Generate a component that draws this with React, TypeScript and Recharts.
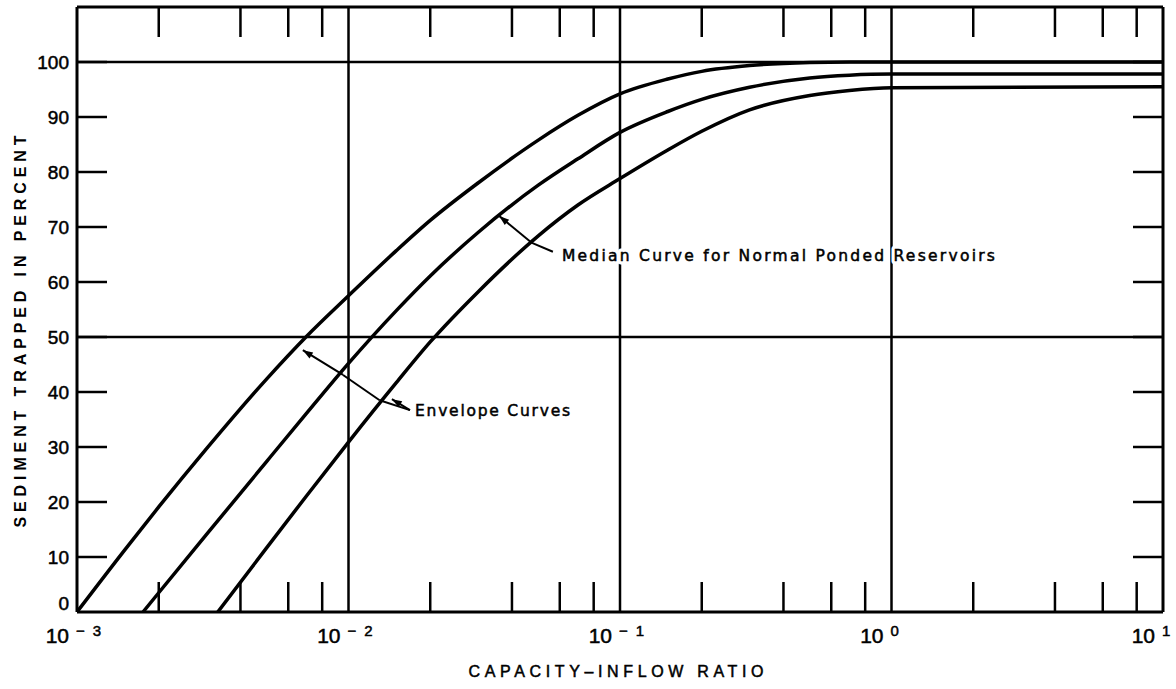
import React from 'react';
import { LineChart, Line, XAxis, YAxis, ReferenceLine, ReferenceDot } from 'recharts';

// curves: capacity-inflow ratio vs percent trapped
const UPPER_X = [0.001, 0.0015, 0.002, 0.003, 0.005, 0.007, 0.01, 0.015, 0.02, 0.03, 0.05, 0.07, 0.1, 0.15, 0.2, 0.3, 0.5, 0.7, 1, 10];
const UPPER_Y = [0, 11.3, 19.1, 29.7, 42.4, 50.1, 57.5, 65.7, 71.2, 78.0, 85.8, 90.3, 94.2, 96.9, 98.3, 99.35, 99.9, 100, 100, 100];

const MEDIAN_X = [0.00175, 0.002, 0.003, 0.005, 0.007, 0.01, 0.015, 0.02, 0.03, 0.05, 0.07, 0.1, 0.15, 0.2, 0.3, 0.5, 0.7, 1, 10];
const MEDIAN_Y = [0, 3.5, 14.1, 27.4, 36.1, 45.2, 54.8, 61.1, 69.0, 77.6, 82.4, 87.2, 91.0, 93.2, 95.4, 97.1, 97.6, 97.8, 97.8];

const LOWER_X = [0.0033, 0.005, 0.007, 0.01, 0.015, 0.02, 0.03, 0.05, 0.07, 0.1, 0.15, 0.2, 0.3, 0.5, 0.7, 1, 10];
const LOWER_Y = [0, 11.7, 21.1, 30.9, 41.7, 49.1, 58.2, 68.4, 74.0, 78.8, 84.0, 87.4, 91.3, 93.9, 94.8, 95.3, 95.5];

const Y_TICKS = [0, 10, 20, 30, 40, 50, 60, 70, 80, 90, 100];
const DECADES = [0.001, 0.01, 0.1, 1, 10];
const EXPONENTS = ['\u22123', '\u22122', '\u22121', '0', '1'];
const MINOR_TICKS = [0.002, 0.004, 0.006, 0.008, 0.02, 0.04, 0.06, 0.08, 0.2, 0.4, 0.6, 0.8, 2, 4, 6, 8];
const X_TICKS = [...DECADES, ...MINOR_TICKS].sort((a, b) => a - b);
const GRID_Y = [50, 100];
const GRID_X = [0.01, 0.1, 1];

const zip = (xs: number[], ys: number[]) => xs.map((x, i) => ({ x, y: ys[i] }));
const upper = zip(UPPER_X, UPPER_Y);
const median = zip(MEDIAN_X, MEDIAN_Y);
const lower = zip(LOWER_X, LOWER_Y);

const W = 1176;
const H = 689;
const FONT = '"Liberation Sans", Arial, sans-serif';
const NOTE_FONT = '"DejaVu Sans", sans-serif';
const INK = '#000';
const TICK_LEN = 30;
const AXIS_LINE = { stroke: INK, strokeWidth: 3 };
// scanned print looks heavier than a plain regular face
const HEAVY = { stroke: INK, strokeWidth: 0.5 };

const decadeIndex = (v: number) => DECADES.findIndex((d) => Math.abs(d - v) / d < 1e-9);

function LeftTick(props: any) {
  const { x, y, payload } = props;
  const v = payload.value;
  return (
    <g>
      {v > 0 && <line x1={x} x2={x + TICK_LEN} y1={y} y2={y} stroke={INK} strokeWidth={2.5} />}
      <text x={x - 8} y={y + (v === 0 ? -9 : 0)} dy="0.36em" textAnchor="end" fontSize={19} fontFamily={FONT} fill={INK} {...HEAVY}>
        {v}
      </text>
    </g>
  );
}

function RightTick(props: any) {
  const { x, y, payload } = props;
  if (payload.value === 0) return <g />;
  return <line x1={x - TICK_LEN} x2={x} y1={y} y2={y} stroke={INK} strokeWidth={2.5} />;
}

function BottomTick(props: any) {
  const { x, y, payload } = props;
  const i = decadeIndex(payload.value);
  if (i < 0) {
    return <line x1={x} x2={x} y1={y} y2={y - TICK_LEN} stroke={INK} strokeWidth={2.5} />;
  }
  const exp = EXPONENTS[i];
  return (
    <g fontFamily={FONT} fill={INK} {...HEAVY}>
      <text x={x - 8} y={y + 31} textAnchor="end" fontSize={21}>10</text>
      <text x={x - 1} y={y + 24} fontSize={15} {...(exp.length > 1 ? { textLength: 25, lengthAdjust: 'spacing' } : {})}>
        {exp}
      </text>
    </g>
  );
}

function TopTick(props: any) {
  const { x, y } = props;
  return <line x1={x} x2={x} y1={y} y2={y + TICK_LEN} stroke={INK} strokeWidth={2.5} />;
}

function arrowShape(withHead: boolean) {
  return (p: any) => {
    const { x1, y1, x2, y2 } = p;
    const dx = x2 - x1;
    const dy = y2 - y1;
    const len = Math.hypot(dx, dy) || 1;
    const ux = dx / len;
    const uy = dy / len;
    const bx = x2 - ux * 10;
    const by = y2 - uy * 10;
    return (
      <g>
        <line x1={x1} y1={y1} x2={x2} y2={y2} stroke={INK} strokeWidth={2} />
        {withHead && (
          <polygon points={`${x2},${y2} ${bx - uy * 3.5},${by + ux * 3.5} ${bx + uy * 3.5},${by - ux * 3.5}`} fill={INK} />
        )}
      </g>
    );
  };
}

function noteText(label: string, length: number) {
  return (p: any) => (
    <g fontSize={15.5} fontFamily={NOTE_FONT}>
      <text x={p.cx} y={p.cy} fill="#fff" stroke="#fff" strokeWidth={7} strokeLinejoin="round" textLength={length} lengthAdjust="spacing">
        {label}
      </text>
      <text x={p.cx} y={p.cy} fill={INK} {...HEAVY} textLength={length} lengthAdjust="spacing">
        {label}
      </text>
    </g>
  );
}

export default function App() {
  return (
    <div style={{ position: 'absolute', left: 0, top: 0, width: W, height: H, background: '#fff' }}>
      <LineChart width={W} height={H} margin={{ top: 0, right: 0, bottom: 0, left: 0 }}>
        <XAxis
          dataKey="x"
          type="number"
          scale="log"
          domain={[0.001, 10]}
          allowDataOverflow
          ticks={X_TICKS}
          interval={0}
          height={77}
          tickLine={false}
          tickSize={0}
          tickMargin={0}
          axisLine={AXIS_LINE}
          tick={<BottomTick />}
          label={{
            content: (p: any) => {
              const vb = p.viewBox;
              return (
                <text
                  x={vb.x + vb.width / 2 - 4}
                  y={vb.y + 65}
                  textAnchor="middle"
                  fontSize={16}
                  fontFamily={FONT}
                  fill={INK}
                  {...HEAVY}
                  textLength={295}
                  lengthAdjust="spacing"
                >
                  CAPACITY{'\u2013'}INFLOW RATIO
                </text>
              );
            },
          }}
        />
        <XAxis
          xAxisId="top"
          orientation="top"
          dataKey="x"
          type="number"
          scale="log"
          domain={[0.001, 10]}
          allowDataOverflow
          ticks={MINOR_TICKS}
          interval={0}
          height={7}
          tickLine={false}
          tickSize={0}
          tickMargin={0}
          axisLine={AXIS_LINE}
          tick={<TopTick />}
        />
        <YAxis
          type="number"
          domain={[0, 110]}
          allowDataOverflow
          ticks={Y_TICKS}
          interval={0}
          width={77}
          tickLine={false}
          tickSize={0}
          tickMargin={0}
          axisLine={AXIS_LINE}
          tick={<LeftTick />}
          label={{
            content: (p: any) => {
              const vb = p.viewBox;
              const cx = vb.x + 26;
              const cy = vb.y + vb.height / 2 + 22;
              return (
                <text
                  x={cx}
                  y={cy}
                  transform={`rotate(-90 ${cx} ${cy})`}
                  textAnchor="middle"
                  fontSize={16}
                  fontWeight="bold"
                  fontFamily={FONT}
                  fill={INK}
                  textLength={392}
                  lengthAdjust="spacing"
                >
                  SEDIMENT TRAPPED IN PERCENT
                </text>
              );
            },
          }}
        />
        <YAxis
          yAxisId="right"
          orientation="right"
          type="number"
          domain={[0, 110]}
          allowDataOverflow
          ticks={Y_TICKS}
          interval={0}
          width={13}
          tickLine={false}
          tickSize={0}
          tickMargin={0}
          axisLine={AXIS_LINE}
          tick={<RightTick />}
        />

        {GRID_Y.map((v) => (
          <ReferenceLine key={`gy${v}`} y={v} stroke={INK} strokeWidth={2.5} />
        ))}
        {GRID_X.map((v) => (
          <ReferenceLine key={`gx${v}`} x={v} stroke={INK} strokeWidth={2.5} />
        ))}

        <Line data={upper} dataKey="y" type="monotone" stroke={INK} strokeWidth={3.5} dot={false} isAnimationActive={false} />
        <Line data={median} dataKey="y" type="monotone" stroke={INK} strokeWidth={3.5} dot={false} isAnimationActive={false} />
        <Line data={lower} dataKey="y" type="monotone" stroke={INK} strokeWidth={3.5} dot={false} isAnimationActive={false} />

        {/* leader for the median curve */}
        <ReferenceLine segment={[{ x: 0.0566, y: 65.5 }, { x: 0.0474, y: 67.1 }]} shape={arrowShape(false)} />
        <ReferenceLine segment={[{ x: 0.0474, y: 67.1 }, { x: 0.0359, y: 72.0 }]} shape={arrowShape(true)} />
        {/* leaders for the envelope curves */}
        <ReferenceLine segment={[{ x: 0.01684, y: 36.7 }, { x: 0.01302, y: 38.5 }]} shape={arrowShape(false)} />
        <ReferenceLine segment={[{ x: 0.01302, y: 38.5 }, { x: 0.00955, y: 43.1 }]} shape={arrowShape(false)} />
        <ReferenceLine segment={[{ x: 0.00955, y: 43.1 }, { x: 0.00679, y: 47.6 }]} shape={arrowShape(true)} />
        <ReferenceLine segment={[{ x: 0.01684, y: 36.7 }, { x: 0.01445, y: 38.7 }]} shape={arrowShape(true)} />

        <ReferenceDot x={0.0611} y={63.8} r={0} shape={noteText('Median Curve for Normal Ponded Reservoirs', 433)} />
        <ReferenceDot x={0.01758} y={35.6} r={0} shape={noteText('Envelope Curves', 155)} />
      </LineChart>
    </div>
  );
}
